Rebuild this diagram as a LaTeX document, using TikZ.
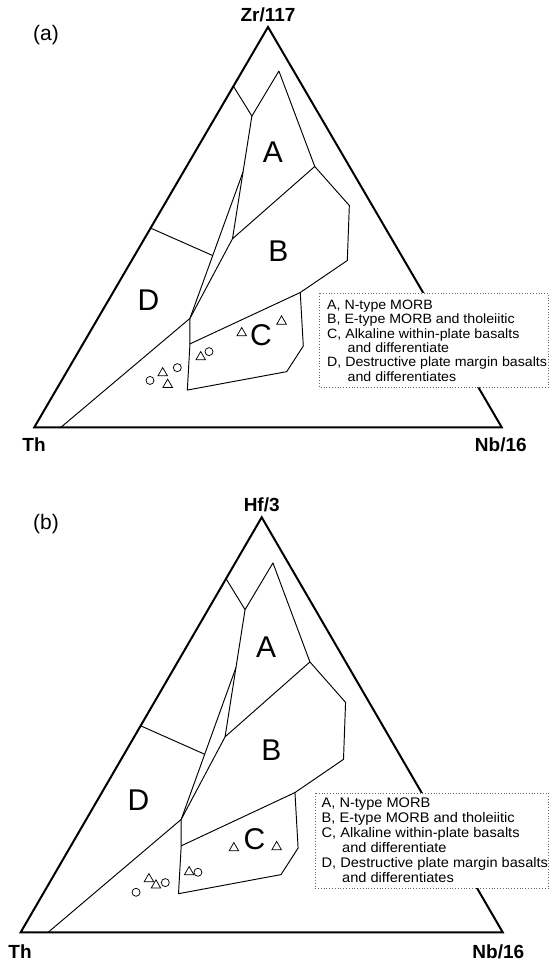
\documentclass[tikz,border=0pt]{standalone}
\usepackage{fontspec}
\setmainfont{Liberation Sans}
\newfontfamily\legfont[FakeStretch=1.05]{Liberation Sans}
\usetikzlibrary{shapes.geometric}
\tikzset{
  frame/.style={line width=2pt, line join=miter, miter limit=20},
  bnd/.style={line width=0.95pt, line join=round},
  trimark/.style={draw, regular polygon, regular polygon sides=3, minimum size=11pt, inner sep=0pt, line width=0.75pt, yshift=-1.4pt},
  circmark/.style={draw, circle, minimum size=8pt, inner sep=0pt, line width=0.75pt},
  region/.style={font=\fontsize{30}{30}\selectfont, inner sep=0pt},
  axlab/.style={font=\bfseries\fontsize{19}{19}\selectfont, inner sep=0pt},
  panlab/.style={font=\fontsize{21}{21}\selectfont, inner sep=0pt},
  legbox/.style={draw=black!60, fill=white, dotted, line width=0.8pt},
  legtext/.style={inner sep=0pt, anchor=north west, align=left}
}
\newcommand{\diagramlines}{%
  \draw[frame] (0,0) -- (1,0) -- (0.5,1) -- cycle;
  \draw[bnd] (0.426,0.852) -- (0.4655,0.7775) -- (0.5233,0.89) -- (0.600,0.6515)
    -- (0.674,0.554) -- (0.6697,0.4167) -- (0.569,0.3367) -- (0.5755,0.203)
    -- (0.540,0.139) -- (0.3274,0.093) -- (0.333,0.2083) -- (0.333,0.272);
  \draw[bnd] (0.333,0.2083) -- (0.569,0.3367);
  \draw[bnd] (0.4655,0.7775) -- (0.424,0.471) -- (0.600,0.6515);
  \draw[bnd] (0.424,0.471) -- (0.333,0.272);
  \draw[bnd] (0.4466,0.638) -- (0.333,0.272);
  \draw[bnd] (0.249,0.4975) -- (0.3817,0.429);
  \draw[bnd] (0.057,0) -- (0.333,0.272);
}
\newcommand{\legendlines}{%
A, N-type MORB\\
B, E-type MORB and tholeiitic\\
C, Alkaline within-plate basalts\\
\hspace*{20.5pt}and differentiate\\
D, Destructive plate margin basalts\\
\hspace*{20.5pt}and differentiates}
\begin{document}
\begin{tikzpicture}[x=1pt,y=1pt]
\useasboundingbox (0,0) rectangle (549,963);
% ---------------- panel (a) ----------------
\begin{scope}[shift={(34.3pt,535.7pt)}, x={(467.4pt,0pt)}, y={(0pt,400.3pt)}]
  \diagramlines
  \node[region] (Aa) at (0.5105,0.6875) {A};
  \node[region] (Ba) at (0.522,0.44) {B};
  \node[region] (Ca) at (0.485,0.2306) {C};
  \node[region] (Da) at (0.244,0.3167) {D};
  \node[trimark] (ta1) at (0.4437,0.239) {};
  \node[trimark] (ta2) at (0.529,0.268) {};
  \node[trimark] (ta3) at (0.356,0.179) {};
  \node[circmark] (ca1) at (0.3738,0.189) {};
  \node[circmark] (ca2) at (0.306,0.149) {};
  \node[trimark] (ta4) at (0.2747,0.139) {};
  \node[trimark] (ta5) at (0.2854,0.110) {};
  \node[circmark] (ca3) at (0.2475,0.117) {};
\end{scope}
\node[axlab] (zr) at (268,948) {Zr/117};
\node[panlab] (pa) at (46,928) {(a)};
\node[axlab] (tha) at (34,518.3) {Th};
\node[axlab] (nba) at (500.8,518) {Nb/16};
\draw[legbox] (319,669.5) rectangle (548.5,576);
\node[legtext, font=\legfont\fontsize{13.5}{14.3}\selectfont] (lega) at (327,663) {\legendlines};
% ---------------- panel (b) ----------------
\begin{scope}[shift={(20.7pt,30.7pt)}, x={(482pt,0pt)}, y={(0pt,415pt)}]
  \diagramlines
  \node[region] (Ab) at (0.509,0.688) {A};
  \node[region] (Bb) at (0.52,0.439) {B};
  \node[region] (Cb) at (0.485,0.225) {C};
  \node[region] (Db) at (0.2444,0.319) {D};
  \node[trimark] (tb1) at (0.4423,0.2064) {};
  \node[trimark] (tb2) at (0.531,0.209) {};
  \node[trimark] (tb3) at (0.3495,0.1486) {};
  \node[circmark] (cb1) at (0.3677,0.1446) {};
  \node[circmark] (cb2) at (0.300,0.1197) {};
  \node[trimark] (tb4) at (0.266,0.1317) {};
  \node[trimark] (tb5) at (0.2806,0.1165) {};
  \node[circmark] (cb3) at (0.2393,0.0964) {};
\end{scope}
\node[axlab] (hf) at (261.7,458) {Hf/3};
\node[panlab] (pb) at (46,439) {(b)};
\node[axlab] (thb) at (20,11) {Th};
\node[axlab] (nbb) at (498.3,11.3) {Nb/16};
\draw[legbox] (315,169.7) rectangle (548.5,74.7);
\node[legtext, font=\legfont\fontsize{13.9}{15}\selectfont] (legb) at (321.5,165) {\legendlines};
\end{tikzpicture}
\end{document}
